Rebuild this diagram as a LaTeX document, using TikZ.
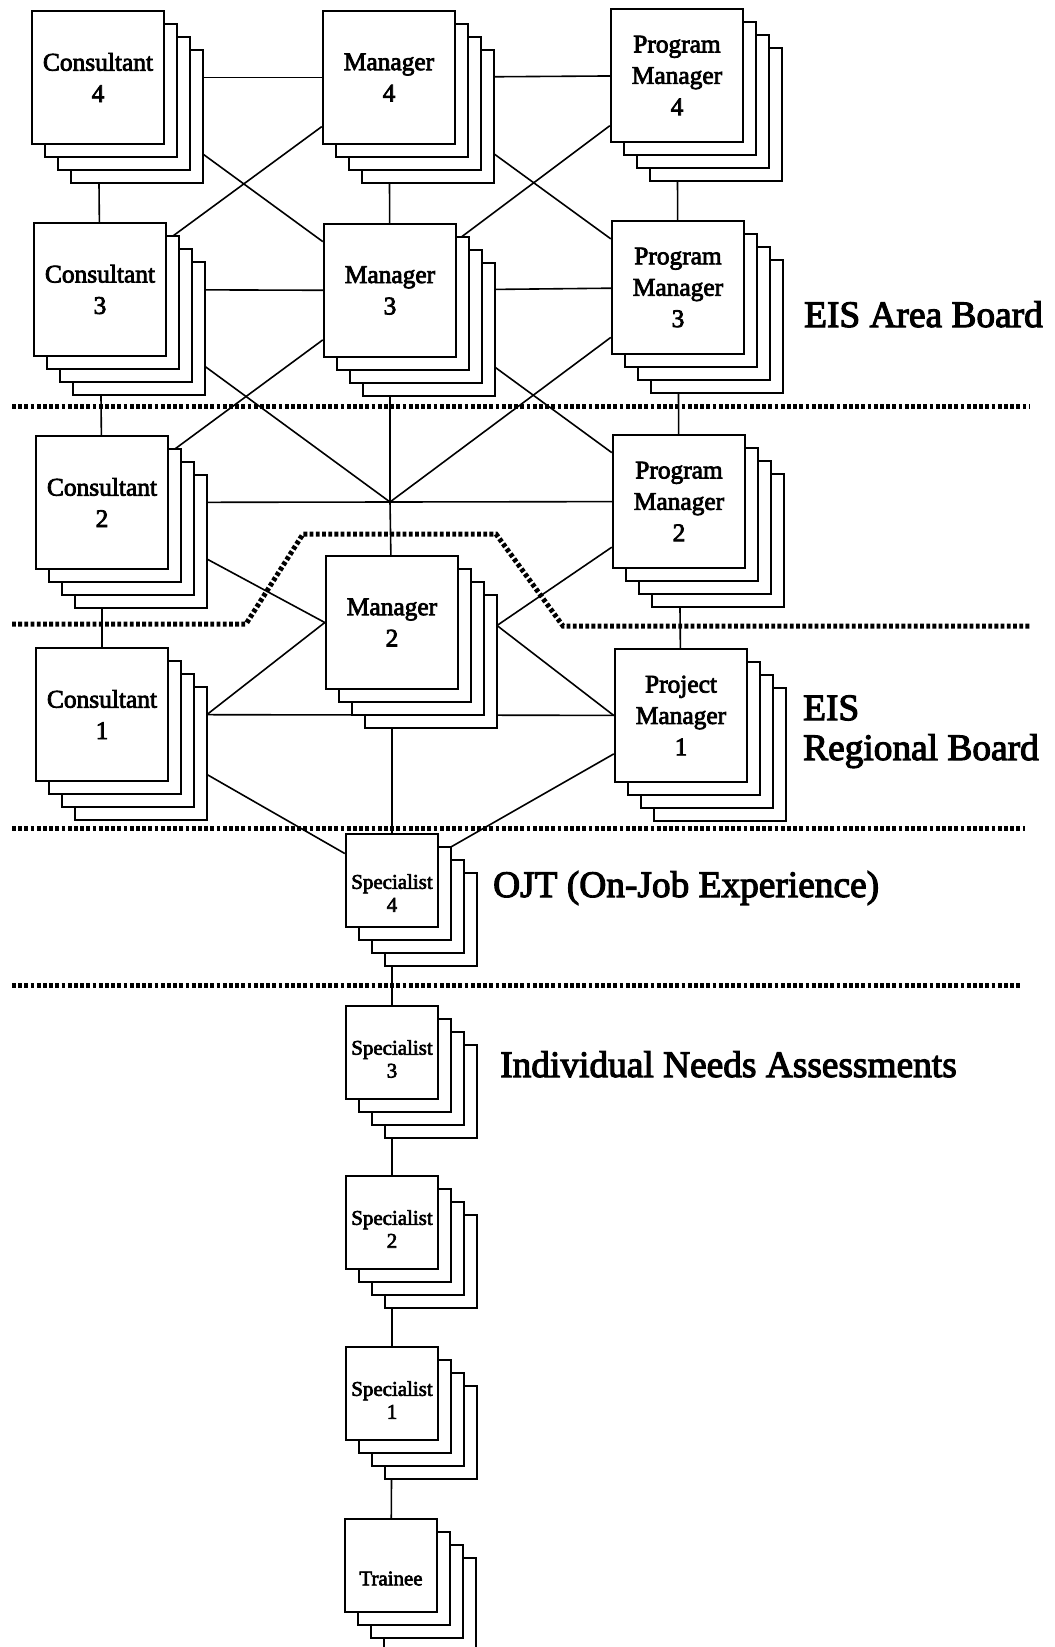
\documentclass[tikz,border=0pt]{standalone}
\usepackage{fontspec}
\setmainfont{Liberation Serif}[FakeBold=3]
\usetikzlibrary{backgrounds,calc}

\newcommand\bigcardfont{\fontsize{25.5}{31.5}\selectfont}
\newcommand\smallcardfont{\fontsize{21}{23}\selectfont}
\newcommand\bandfont{\fontsize{37.5}{40}\selectfont}

\tikzset{
  bigcard/.style={draw, line width=2.4bp, fill=white, minimum width=132bp,
    minimum height=133bp, inner sep=0pt},
  smallcard/.style={draw, line width=2.4bp, fill=white, minimum width=92bp,
    minimum height=93bp, inner sep=0pt},
  bigcard text/.style={font=\bigcardfont, align=center, inner sep=0pt},
  smallcard text/.style={font=\smallcardfont, align=center, inner sep=0pt},
  backsheet/.style={line width=1.2bp},
  link/.style={line width=1.6bp},
  divider/.style={line width=5bp, dash pattern=on 3.8bp off 2.4bp},
  bandlabel/.style={inner sep=0pt, font=\bandfont, align=left},
}

% a card with three sheets stacked behind it
% #1 card style, #2 name, #3 centre, #4 downward text offset, #5 text
\newcommand\cardstack[5]{%
  \foreach \k in {3,2,1}{%
    \node[#1, backsheet, xshift={13bp*\k}, yshift={-13bp*\k}] at (#3) {};}
  \node[#1, label={[#1 text, yshift={-#4bp}]center:#5}] (#2) at (#3) {};
}

\begin{document}
\begin{tikzpicture}[x=1bp, y=-1bp]
\useasboundingbox (0,0) rectangle (1054,1647);

% management grid
\cardstack{bigcard}{c4}{98,77.5}{0}{Consultant\\4}
\cardstack{bigcard}{m4}{389,77.5}{0}{Manager\\4}
\cardstack{bigcard}{p4}{677,75.5}{0}{Program\\Manager\\4}
\cardstack{bigcard}{c3}{100,289.5}{0}{Consultant\\3}
\cardstack{bigcard}{m3}{390,290.5}{0}{Manager\\3}
\cardstack{bigcard}{p3}{678,287.5}{0}{Program\\Manager\\3}
\cardstack{bigcard}{c2}{102,502.5}{0}{Consultant\\2}
\cardstack{bigcard}{p2}{679,501.5}{0}{Program\\Manager\\2}
\cardstack{bigcard}{m2}{392,622.5}{0}{Manager\\2}
\cardstack{bigcard}{c1}{102,714.5}{0}{Consultant\\1}
\cardstack{bigcard}{pj1}{681,715.5}{0}{Project\\Manager\\1}

% specialist ladder
\cardstack{smallcard}{s4}{392,880.5}{12.5}{Specialist\\4}
\cardstack{smallcard}{s3}{392,1052.5}{6.5}{Specialist\\3}
\cardstack{smallcard}{s2}{392,1222.5}{6.5}{Specialist\\2}
\cardstack{smallcard}{s1}{392,1393.5}{6.5}{Specialist\\1}
\cardstack{smallcard}{tr}{391,1565.5}{13}{Trainee}

% meeting point of the middle column and stack edges
\coordinate (j) at (390,502);
\coordinate (c1r) at ($(c1)+(105,0)$);
\coordinate (m2r) at ($(m2)+(105,3)$);

\begin{pgfonlayer}{background}
  \fill[white] (0,0) rectangle (1054,1647);
  % rows
  \draw[link] (c4) -- (m4);
  \draw[link] (m4) -- (p4);
  \draw[link] (c3) -- (m3);
  \draw[link] (m3) -- (p3);
  \draw[link] (c2) -- (p2);
  \draw[link] (c1) -- (pj1);
  % columns
  \draw[link] (c4) -- (c3);
  \draw[link] (c3) -- (c2);
  \draw[link] (c2) -- (c1);
  \draw[link] (m4) -- (m3);
  \draw[link] (m3) -- (j);
  \draw[link] (j) -- (m2);
  \draw[link] (p4) -- (p3);
  \draw[link] (p3) -- (p2);
  \draw[link] (p2) -- (pj1);
  \draw[link] (m2) -- (s4);
  \draw[link] (s4) -- (s3);
  \draw[link] (s3) -- (s2);
  \draw[link] (s2) -- (s1);
  \draw[link] (s1) -- (tr);
  % cross links
  \draw[link] (c4) -- (m3);
  \draw[link] (c3) -- (m4);
  \draw[link] (m4) -- (p3);
  \draw[link] (m3) -- (p4);
  \draw[link] (c3) -- (j);
  \draw[link] (p3) -- (j);
  \draw[link] (m3) -- (c2);
  \draw[link] (m3) -- (p2);
  \draw[link] (c2) -- (m2.west);
  \draw[link] (c1r) -- (m2.west);
  \draw[link] (m2r) -- (p2);
  \draw[link] (m2r) -- (pj1.west);
  \draw[link] (c1) -- (s4);
  \draw[link] (pj1) -- (s4);
\end{pgfonlayer}

% board boundaries
\draw[divider] (12,406.5) -- (1030,406.5);
\draw[divider] (12,624) -- (246,624) -- (303,534) -- (496,534) -- (563,626) -- (1030,626);
\draw[divider] (12,828) -- (1025,828);
\draw[divider] (12,985) -- (1022,985);

% band names
\node[bandlabel, anchor=base west] (areab) at (804,327) {EIS Area Board};
\node[bandlabel, anchor=north west] (regb) at (803,695.2) {EIS\\Regional Board};
\node[bandlabel, anchor=base west] (ojt) at (493,897) {OJT (On-Job Experience)};
\node[bandlabel, anchor=base west] (ina) at (500,1077) {Individual Needs Assessments};
\end{tikzpicture}
\end{document}
